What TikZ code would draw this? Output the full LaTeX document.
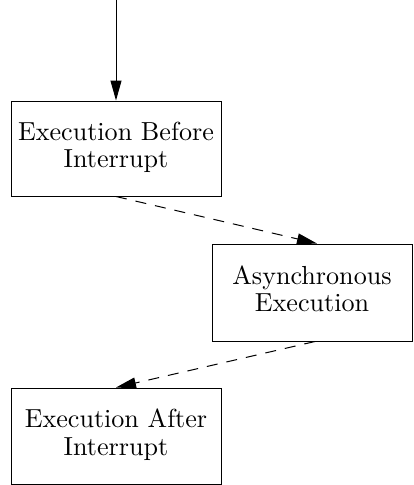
\documentclass[tikz,border=0pt]{standalone}
\usepackage{fontspec}
\usepackage{graphicx}
\usetikzlibrary{arrows.meta}
% two-line label set at 10pt and enlarged as a whole
\newcommand{\stagelabel}[2]{\scalebox{2.61}{\fontsize{10}{10.5}\selectfont
  \begin{tabular}{@{}c@{}}#1\\#2\end{tabular}}}
\begin{document}
\begin{tikzpicture}[x=1pt,y=-1pt,
  stagebox/.style={draw, line width=1pt, rectangle, inner sep=0pt,
    minimum width=210pt, minimum height=96pt, align=center},
  flow/.style={line width=1pt, -{Triangle[length=20pt,width=11pt]}},
  async/.style={flow, dash pattern=on 11pt off 9pt}]
\useasboundingbox (0,0) rectangle (413,485);

\node[stagebox, minimum height=95pt] (before) at (116,148.5)
  {\stagelabel{Execution Before}{Interrupt}};
\node[stagebox, minimum width=200pt, minimum height=97pt] (asyncexec) at (312,292.5)
  {\stagelabel{Asynchronous}{Execution}};
\node[stagebox] (after) at (116,436)
  {\stagelabel{Execution After}{Interrupt}};

\coordinate (entry) at (116,0);

\draw[flow] (entry) -- (before.north);
\draw[async] (before.south) -- ([xshift=5pt]asyncexec.north);
\draw[async] ([xshift=3pt]asyncexec.south) -- (after.north);
\end{tikzpicture}
\end{document}
